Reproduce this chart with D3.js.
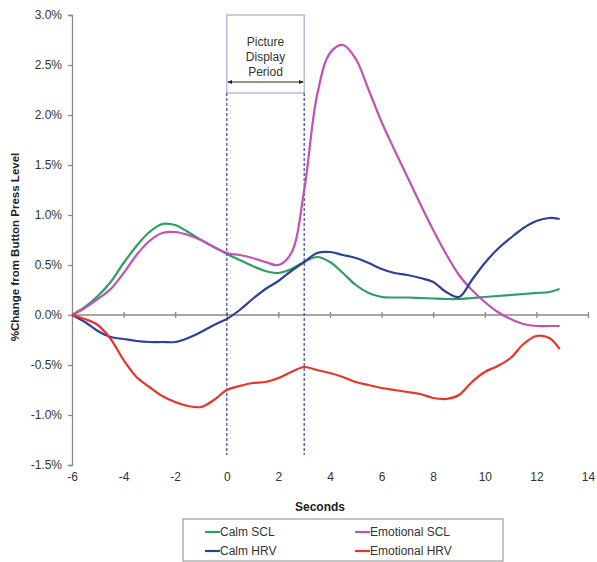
<!DOCTYPE html>
<html>
<head>
<meta charset="utf-8">
<script src="https://cdn.jsdelivr.net/npm/d3@7"></script>
<style>
  body { margin: 0; background: #fff; }
  text { font-family: "Liberation Sans", Arial, sans-serif; }
</style>
</head>
<body>
<div id="chart"></div>
<script>
// data (% change vs seconds)
var seconds = [-6, -5.5, -5, -4.5, -4, -3.5, -3, -2.5, -2, -1.5, -1, -0.5, 0, 0.5, 1, 1.5, 2, 2.5, 3, 3.5,
  4, 4.5, 5, 5.5, 6, 6.5, 7, 7.5, 8, 8.5, 9, 9.5, 10, 10.5, 11, 11.5, 12, 12.5, 12.9];
var calmSCL = [0, 0.08, 0.19, 0.33, 0.52, 0.69, 0.83, 0.91, 0.9, 0.83, 0.75, 0.68, 0.61, 0.55, 0.49, 0.44, 0.42, 0.46, 0.53, 0.58,
  0.53, 0.42, 0.3, 0.22, 0.18, 0.175, 0.175, 0.17, 0.165, 0.16, 0.16, 0.17, 0.18, 0.19, 0.2, 0.21, 0.22, 0.23, 0.26];
var emoSCL = [0, 0.07, 0.16, 0.26, 0.42, 0.6, 0.74, 0.82, 0.83, 0.8, 0.75, 0.68, 0.62, 0.6, 0.57, 0.53, 0.5, 0.62, 1.25, 2.2,
  2.62, 2.7, 2.56, 2.25, 1.93, 1.65, 1.38, 1.11, 0.85, 0.61, 0.4, 0.25, 0.13, 0.03, -0.04, -0.09, -0.11, -0.11, -0.11];
var calmHRV = [0, -0.07, -0.16, -0.22, -0.24, -0.26, -0.27, -0.27, -0.27, -0.23, -0.17, -0.1, -0.04, 0.05, 0.16, 0.26, 0.34, 0.44, 0.53, 0.62,
  0.63, 0.6, 0.57, 0.52, 0.46, 0.42, 0.4, 0.37, 0.33, 0.23, 0.18, 0.35, 0.52, 0.66, 0.77, 0.87, 0.94, 0.97, 0.96];
var emoHRV = [0, -0.04, -0.1, -0.24, -0.45, -0.62, -0.72, -0.81, -0.87, -0.91, -0.92, -0.85, -0.75, -0.71, -0.68, -0.67, -0.63, -0.57, -0.52, -0.55,
  -0.58, -0.62, -0.67, -0.7, -0.73, -0.75, -0.77, -0.79, -0.83, -0.84, -0.8, -0.67, -0.57, -0.51, -0.43, -0.29, -0.21, -0.23, -0.34];

var seriesNames = ["Calm SCL", "Emotional SCL", "Calm HRV", "Emotional HRV"];
var seriesColors = ["#2e9e62", "#c54fb5", "#2f3f9e", "#e8352a"];
var seriesValues = [calmSCL, emoSCL, calmHRV, emoHRV];
var xTicks = [-6, -4, -2, 0, 2, 4, 6, 8, 10, 12, 14];
var yTicks = [-1.5, -1, -0.5, 0, 0.5, 1, 1.5, 2, 2.5, 3];
var displayPeriod = [0, 3];

var width = 597, height = 562;

var svg = d3.select("#chart").append("svg")
  .attr("width", width)
  .attr("height", height);

var x = d3.scaleLinear().domain([-6, 14]).range([72, 588]);
var y = d3.scaleLinear().domain([-1.5, 3]).range([465, 15]);

// y axis
var yAxis = svg.append("g")
  .attr("transform", "translate(" + x(-6) + ",0)")
  .call(d3.axisLeft(y).tickValues(yTicks).tickSize(4).tickPadding(6)
    .tickFormat(function(d) { return d.toFixed(1) + "%"; }));
yAxis.selectAll("path, line").attr("stroke", "#8a8a8a").attr("stroke-width", 1.3);
yAxis.selectAll("text").attr("font-size", 12).attr("fill", "#333");

// zero line with crossing ticks
var zAxis = svg.append("g")
  .attr("transform", "translate(0," + y(0) + ")")
  .call(d3.axisBottom(x).tickValues(xTicks.slice(1)).tickSize(3).tickFormat(""));
zAxis.select(".domain").attr("d", "M" + x(-6) + ",0H" + x(14));
zAxis.selectAll("path, line").attr("stroke", "#8a8a8a").attr("stroke-width", 1.3);
zAxis.selectAll(".tick line").attr("y1", -3).attr("y2", 3);

// x labels at the bottom
var xLab = svg.append("g")
  .attr("transform", "translate(0," + y(-1.5) + ")")
  .call(d3.axisBottom(x).tickValues(xTicks).tickSize(0).tickPadding(7)
    .tickFormat(function(d) { return String(d); }));
xLab.select(".domain").remove();
xLab.selectAll("text").attr("font-size", 12).attr("fill", "#333");

svg.append("text")
  .attr("x", 320).attr("y", 511)
  .attr("text-anchor", "middle")
  .attr("font-size", 12).attr("font-weight", "bold").attr("fill", "#222")
  .text("Seconds");

svg.append("text")
  .attr("transform", "translate(19,247) rotate(-90)")
  .attr("text-anchor", "middle")
  .attr("font-size", 11.5).attr("font-weight", "bold").attr("fill", "#222")
  .text("%Change from Button Press Level");

// picture display period
var boxTop = 15, boxBottom = 93;
svg.append("rect")
  .attr("x", x(displayPeriod[0])).attr("y", boxTop)
  .attr("width", x(displayPeriod[1]) - x(displayPeriod[0]))
  .attr("height", boxBottom - boxTop)
  .attr("fill", "none").attr("stroke", "#a9a9d6").attr("stroke-width", 1.2);

svg.selectAll(".period")
  .data(displayPeriod)
  .enter().append("line")
  .attr("class", "period")
  .attr("x1", function(d) { return x(d); }).attr("x2", function(d) { return x(d); })
  .attr("y1", boxBottom).attr("y2", 455)
  .attr("stroke", "#3344aa").attr("stroke-width", 1.2)
  .attr("stroke-dasharray", "3,2");

svg.append("defs").selectAll("marker")
  .data(["arrS", "arrE"])
  .enter().append("marker")
  .attr("id", function(d) { return d; })
  .attr("viewBox", "0 0 10 10").attr("refX", 9).attr("refY", 5)
  .attr("markerWidth", 5).attr("markerHeight", 5)
  .attr("orient", "auto-start-reverse")
  .append("path").attr("d", "M0,1L10,5L0,9z").attr("fill", "#222");

svg.append("line")
  .attr("x1", x(displayPeriod[0]) + 1).attr("x2", x(displayPeriod[1]) - 1)
  .attr("y1", 82).attr("y2", 82)
  .attr("stroke", "#222").attr("stroke-width", 1)
  .attr("marker-start", "url(#arrS)").attr("marker-end", "url(#arrE)");

svg.append("text")
  .attr("x", (x(displayPeriod[0]) + x(displayPeriod[1])) / 2)
  .attr("y", 46)
  .attr("text-anchor", "middle")
  .attr("font-size", 12).attr("fill", "#333")
  .selectAll("tspan")
  .data(["Picture", "Display", "Period"])
  .enter().append("tspan")
  .attr("x", (x(displayPeriod[0]) + x(displayPeriod[1])) / 2)
  .attr("dy", function(d, i) { return i ? 15 : 0; })
  .text(function(d) { return d; });

// lines
var line = d3.line()
  .x(function(d) { return x(d[0]); })
  .y(function(d) { return y(d[1]); })
  .curve(d3.curveCatmullRom.alpha(0.5));

svg.append("g").selectAll("path")
  .data(seriesValues)
  .enter().append("path")
  .attr("d", function(vals) { return line(seconds.map(function(t, i) { return [t, vals[i]]; })); })
  .attr("fill", "none")
  .attr("stroke", function(d, i) { return seriesColors[i]; })
  .attr("stroke-width", 2.2);

// legend
svg.append("rect")
  .attr("x", 183).attr("y", 519).attr("width", 320).attr("height", 42)
  .attr("fill", "#fff").attr("stroke", "#8a8a8a").attr("stroke-width", 1);

var leg = svg.append("g").selectAll("g")
  .data(seriesNames)
  .enter().append("g")
  .attr("transform", function(d, i) {
    return "translate(" + (i % 2 ? 355 : 205) + "," + (i < 2 ? 532 : 551) + ")";
  });
leg.append("line")
  .attr("x1", 0).attr("x2", 15)
  .attr("stroke", function(d, i) { return seriesColors[i]; })
  .attr("stroke-width", 2.2);
leg.append("text")
  .attr("x", 15).attr("dy", "0.35em")
  .attr("font-size", 12).attr("fill", "#333")
  .text(function(d) { return d; });
</script>
</body>
</html>
